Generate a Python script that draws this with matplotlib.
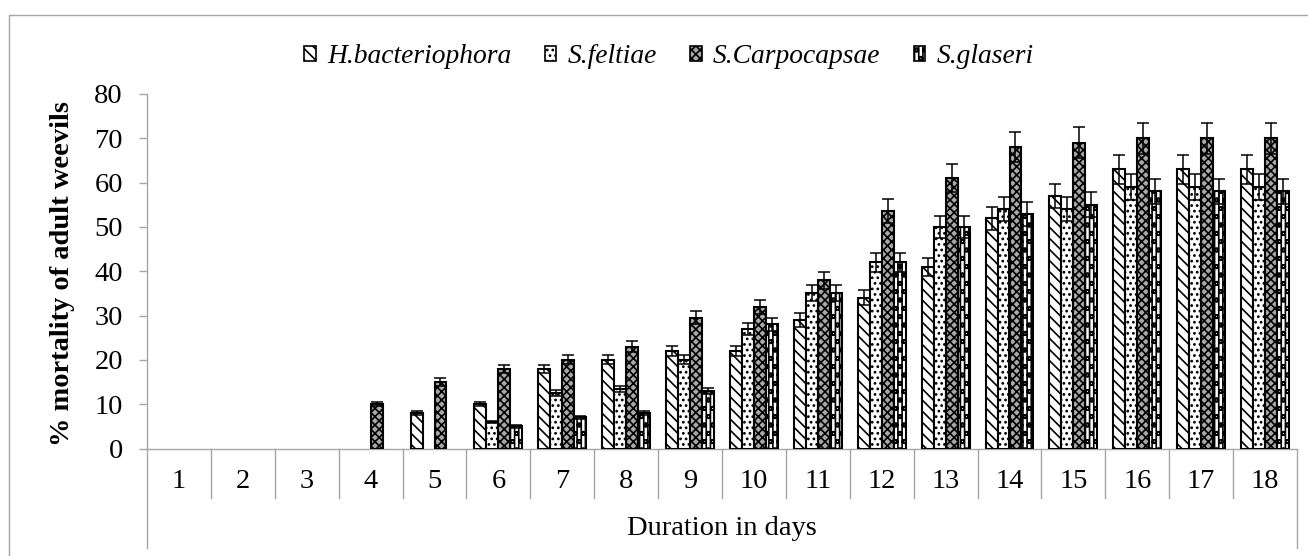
import numpy as np
import matplotlib
matplotlib.use("Agg")
import matplotlib.pyplot as plt
from matplotlib.patches import Rectangle
from matplotlib.lines import Line2D
import matplotlib.transforms as mtransforms

plt.rcParams["font.family"] = ["Liberation Serif", "DejaVu Serif"]
plt.rcParams["hatch.linewidth"] = 1.2

# data (% mortality per day)
days = [str(d) for d in range(1, 19)]
series = ["H.bacteriophora", "S.feltiae", "S.Carpocapsae", "S.glaseri"]

h_bact = [0, 0, 0, 0, 8, 10, 18, 20, 22, 22, 29, 34, 41, 52, 57, 63, 63, 63]
s_felt = [0, 0, 0, 0, 0, 6, 12.5, 13.5, 20, 27, 35, 42, 50, 54, 54, 59, 59, 59]
s_carp = [0, 0, 0, 10, 15, 18, 20, 23, 29.5, 32, 38, 53.5, 61, 68, 69, 70, 70, 70]
s_glas = [0, 0, 0, 0, 0, 5, 7, 8, 13, 28, 35, 42, 50, 53, 55, 58, 58, 58]

# error bars (read off, roughly)
h_err = [0, 0, 0, 0, 0.4, 0.5, 0.9, 1.0, 1.1, 1.1, 1.5, 1.7, 2.0, 2.6, 2.8, 3.2, 3.2, 3.2]
f_err = [0, 0, 0, 0, 0, 0.3, 0.6, 0.7, 1.0, 1.4, 1.8, 2.1, 2.5, 2.7, 2.7, 3.0, 3.0, 3.0]
c_err = [0, 0, 0, 0.5, 0.8, 0.9, 1.0, 1.2, 1.5, 1.6, 1.9, 2.7, 3.1, 3.4, 3.5, 3.5, 3.5, 3.5]
g_err = [0, 0, 0, 0, 0, 0.3, 0.4, 0.4, 0.7, 1.4, 1.8, 2.1, 2.5, 2.7, 2.8, 2.9, 2.9, 2.9]

values = [h_bact, s_felt, s_carp, s_glas]
errors = [h_err, f_err, c_err, g_err]
hatches = ["\\\\\\", "...", "xxxx", "||||oo"]
faces = ["white", "white", "#a8a8a8", "white"]

grey = "#a6a6a6"
fs = 20.5

fig = plt.figure(figsize=(13.08, 5.56), dpi=100)
ax = fig.add_axes([147 / 1308, 1 - 448.5 / 556, 1150 / 1308, 354.5 / 556])

x = np.arange(len(days))
w = 0.1875
handles = []
for i, (vals, errs) in enumerate(zip(values, errors)):
    vals = np.array(vals, dtype=float)
    errs = np.array(errs, dtype=float)
    xs = x + (i - 1.5) * w
    m = vals > 0  # zero bars are not drawn in the original
    ax.bar(xs[m], vals[m], width=w, facecolor=faces[i], edgecolor="black",
           linewidth=1.5, hatch=hatches[i], zorder=3)
    ax.errorbar(xs[m], vals[m], yerr=errs[m], fmt="none", ecolor="black",
                elinewidth=1.1, capsize=4.3, capthick=1.1, zorder=4)
    handles.append(Rectangle((0, 0), 1, 1, facecolor=faces[i], edgecolor="black",
                             linewidth=1.2, hatch=hatches[i], label=series[i]))

ax.set_xlim(-0.5, len(days) - 0.5)
ax.set_ylim(0, 80)
ax.set_yticks(range(0, 81, 10))
ax.tick_params(axis="y", direction="out", length=5.8, width=1.0, color=grey,
               pad=11.5, labelsize=fs)
ax.set_xticks([])
for s in ["top", "right"]:
    ax.spines[s].set_visible(False)
ax.spines["left"].set_color(grey)
ax.spines["bottom"].set_color(grey)
ax.spines["left"].set_linewidth(1.0)
ax.spines["bottom"].set_linewidth(1.0)

# category axis: labels and dividers below the zero line
trans = mtransforms.blended_transform_factory(ax.transData, ax.transAxes)
for i, d in enumerate(days):
    ax.text(i, -0.0937, d, transform=trans, ha="center", va="center", fontsize=fs)
for k in range(len(days) + 1):
    bottom = -0.2807 if k in (0, len(days)) else -0.1396
    ax.add_line(Line2D([k - 0.5, k - 0.5], [0, bottom], transform=trans,
                       color=grey, linewidth=1.0, clip_on=False))
ax.text(0.5, -0.2243, "Duration in days", transform=ax.transAxes,
        ha="center", va="center", fontsize=fs)

ax.set_ylabel("% mortality of adult weevils", fontsize=fs, fontweight="bold")
ax.yaxis.set_label_coords(-0.0626, 0.495)

fig.legend(handles=handles, loc="center", bbox_to_anchor=(0.5115, 0.8975),
           ncol=4, frameon=False, handlelength=0.43, handleheight=0.43,
           handletextpad=0.41, columnspacing=1.2,
           prop={"family": "Liberation Serif", "style": "italic", "size": 19.8})

# outer chart border
fig.patches.append(Rectangle((8.5 / 1308, -0.1), 2, 1.1 - 15 / 556,
                             transform=fig.transFigure, fill=False,
                             edgecolor=grey, linewidth=1.0))

fig.savefig("out.png", dpi=100)
